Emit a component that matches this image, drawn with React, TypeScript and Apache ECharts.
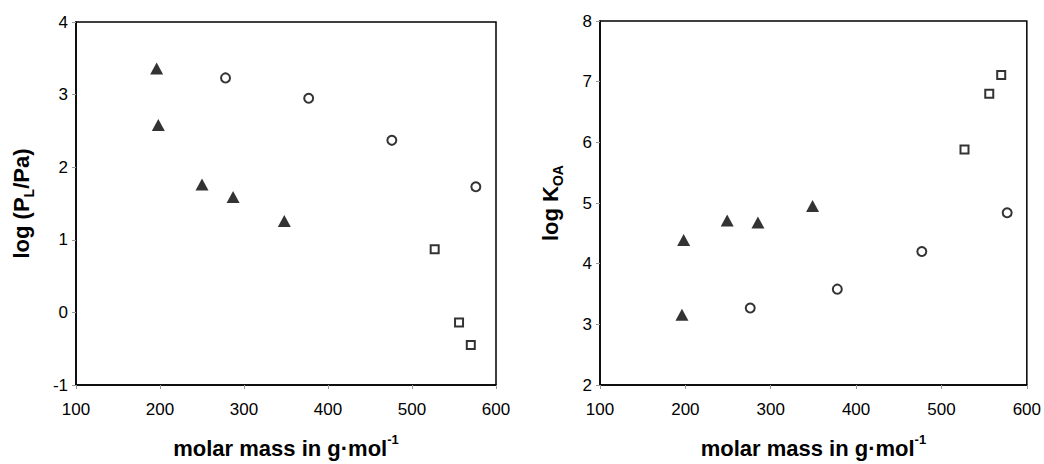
import React, { useEffect, useRef } from "react";
import * as echarts from "echarts";

// Left panel: log(PL/Pa) vs molar mass
const triMassL = [196, 198, 250, 287, 348];
const triLogPL = [3.36, 2.58, 1.76, 1.59, 1.26];
const circMassL = [278, 377, 476, 576];
const circLogPL = [3.23, 2.95, 2.37, 1.73];
const sqMassL = [527, 556, 570];
const sqLogPL = [0.87, -0.14, -0.45];

// Right panel: log KOA vs molar mass
const triMassR = [198, 196, 249, 285, 349];
const triLogKOA = [4.39, 3.16, 4.71, 4.68, 4.95];
const circMassR = [276, 378, 477, 577];
const circLogKOA = [3.27, 3.58, 4.2, 4.84];
const sqMassR = [527, 556, 570];
const sqLogKOA = [5.88, 6.8, 7.11];

const xTicks = { min: 100, max: 600, interval: 100 };
const yTicksL = { min: -1, max: 4, interval: 1 };
const yTicksR = { min: 2, max: 8, interval: 1 };

const FONT = "'Liberation Sans', Arial, sans-serif";

const zip = (xs: number[], ys: number[]) => xs.map((x, i) => [x, ys[i]]);

export default function App() {
  const ref = useRef<HTMLDivElement>(null);
  useEffect(() => {
    document.body.style.margin = "0";
    if (!ref.current) return;
    const chart = echarts.init(ref.current, null, { renderer: "svg" });
    const axisCommon = {
      type: "value",
      splitLine: { show: false },
      axisLine: { show: true, onZero: false, lineStyle: { color: "#000", width: 1.5 } },
      axisTick: { show: true, length: 4, lineStyle: { color: "#999", width: 1 } },
      axisLabel: { color: "#000", fontSize: 17, fontFamily: FONT },
      nameLocation: "middle",
    };
    const xName = {
      name: "{a|molar mass in g·mol}{s|-1}",
      nameGap: 48,
      nameTextStyle: {
        rich: {
          a: { fontSize: 22, fontWeight: "bold", fontFamily: FONT, color: "#000", lineHeight: 26, verticalAlign: "bottom" },
          s: { fontSize: 13, fontWeight: "bold", fontFamily: FONT, color: "#000", lineHeight: 13, verticalAlign: "top" },
        },
      },
    };
    const tri = { symbol: "triangle", symbolSize: [13, 12], itemStyle: { color: "#000" } };
    const circ = { symbol: "circle", symbolSize: 9, itemStyle: { color: "#fff", borderColor: "#000", borderWidth: 2 } };
    const sq = { symbol: "rect", symbolSize: 8, itemStyle: { color: "#fff", borderColor: "#000", borderWidth: 2 } };
    const yRich = {
      a: { fontSize: 22, fontWeight: "bold", fontFamily: FONT, color: "#000", lineHeight: 26, verticalAlign: "top" },
      b: { fontSize: 14, fontWeight: "bold", fontFamily: FONT, color: "#000", lineHeight: 14, verticalAlign: "bottom" },
    };
    chart.setOption({
      animation: false,
      backgroundColor: "#fff",
      grid: [
        { left: 76, top: 22, width: 420, height: 363, show: true, borderColor: "#000", borderWidth: 1.5, backgroundColor: "transparent" },
        { left: 600, top: 21, width: 427, height: 364, show: true, borderColor: "#000", borderWidth: 1.5, backgroundColor: "transparent" },
      ],
      xAxis: [
        { ...axisCommon, ...xTicks, ...xName, gridIndex: 0, axisLabel: { ...axisCommon.axisLabel, margin: 16 } },
        { ...axisCommon, ...xTicks, ...xName, gridIndex: 1, axisLabel: { ...axisCommon.axisLabel, margin: 16 } },
      ],
      yAxis: [
        {
          ...axisCommon,
          ...yTicksL,
          gridIndex: 0,
          axisLabel: { ...axisCommon.axisLabel, margin: 8 },
          name: "{a|log (P}{b|L}{a|/Pa)}",
          nameGap: 40,
          nameTextStyle: { rich: yRich },
        },
        {
          ...axisCommon,
          ...yTicksR,
          gridIndex: 1,
          axisLabel: { ...axisCommon.axisLabel, margin: 8 },
          name: "{a|log K}{b|OA}",
          nameGap: 35,
          nameTextStyle: { rich: yRich },
        },
      ],
      series: [
        { type: "scatter", xAxisIndex: 0, yAxisIndex: 0, data: zip(triMassL, triLogPL), ...tri },
        { type: "scatter", xAxisIndex: 0, yAxisIndex: 0, data: zip(circMassL, circLogPL), ...circ },
        { type: "scatter", xAxisIndex: 0, yAxisIndex: 0, data: zip(sqMassL, sqLogPL), ...sq },
        { type: "scatter", xAxisIndex: 1, yAxisIndex: 1, data: zip(triMassR, triLogKOA), ...tri },
        { type: "scatter", xAxisIndex: 1, yAxisIndex: 1, data: zip(circMassR, circLogKOA), ...circ },
        { type: "scatter", xAxisIndex: 1, yAxisIndex: 1, data: zip(sqMassR, sqLogKOA), ...sq },
      ],
    });
    return () => chart.dispose();
  }, []);
  return <div ref={ref} style={{ width: 1044, height: 464 }} />;
}
